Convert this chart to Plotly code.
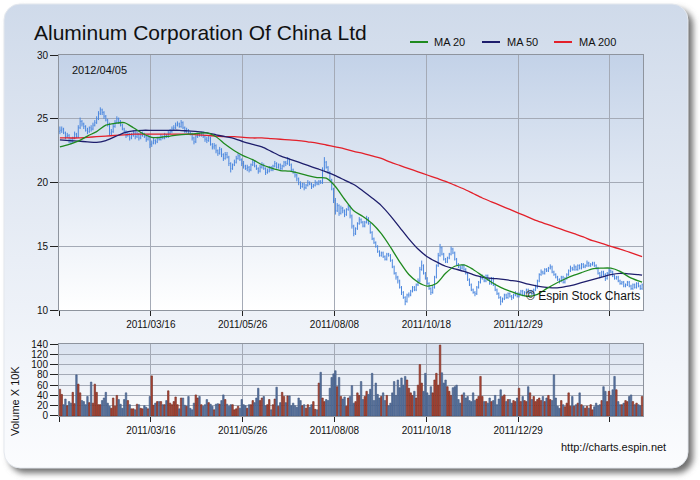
import base64
import plotly.graph_objects as go

# ---------------- data ----------------
tick_labels = ["", "2011/03/16", "2011/05/26", "2011/08/08", "2011/10/18", "2011/12/29", ""]
chart_date = "2012/04/05"

open_ = [
    24.0, 24.1, 24.2, 23.9, 23.6, 23.7, 23.3, 23.2, 23.5, 23.8,
    23.6, 24.3, 24.8, 24.6, 24.4, 24.1, 24.0, 24.3, 24.2, 24.5,
    24.7, 25.0, 25.4, 25.7, 25.5, 25.2, 24.9, 24.6, 23.9, 24.0,
    24.4, 24.7, 25.0, 24.8, 24.5, 24.2, 24.0, 23.7, 23.8, 23.5,
    23.7, 23.9, 23.6, 23.8, 23.5, 23.7, 23.8, 23.6, 23.4, 23.6,
    23.0, 23.1, 23.3, 23.2, 23.5, 23.4, 23.6, 23.5, 23.7, 23.6,
    23.9, 24.0, 24.2, 24.3, 24.5, 24.6, 24.4, 24.7, 24.3, 24.0,
    24.1, 23.9, 23.8, 23.5, 23.2, 23.6, 23.8, 23.7, 23.9, 23.6,
    23.4, 23.3, 23.5, 23.0, 22.8, 22.9, 22.5, 22.3, 22.6, 22.2,
    21.9, 22.2, 22.0, 21.5, 21.1, 21.4, 21.6, 21.9, 22.1, 21.8,
    21.5, 21.3, 21.1, 21.2, 21.0, 21.4, 21.6, 21.3, 21.1, 20.9,
    21.2, 21.4, 21.1, 20.8, 20.9, 21.2, 21.0, 21.3, 21.5, 21.2,
    21.4, 21.1, 21.3, 21.6, 21.5, 21.8, 21.4, 21.0, 20.8, 20.6,
    20.3, 20.0, 19.7, 19.9, 19.6, 19.8, 20.0, 19.9, 19.7, 19.8,
    20.0, 19.9, 20.1, 20.0, 21.0, 21.6, 21.2, 20.8, 20.2, 19.5,
    18.6, 17.8, 18.2, 17.6, 18.0, 17.8, 17.5, 17.9, 18.1, 17.4,
    16.6, 16.0, 16.4, 16.8, 17.1, 16.9, 16.6, 16.9, 17.2, 16.8,
    16.1, 15.6, 15.3, 15.0, 14.6, 14.3, 14.5, 14.2, 14.0, 14.4,
    14.3, 13.9, 13.4, 12.9, 12.6, 12.3, 11.8, 11.4, 11.0, 10.7,
    11.2, 11.2, 11.5, 11.8, 11.6, 12.0, 12.3, 13.2, 13.5, 12.9,
    12.5, 12.1, 11.7, 11.4, 11.8, 12.6, 13.5, 14.3, 14.9, 14.4,
    14.0, 13.8, 14.1, 14.4, 14.8, 14.5, 14.0, 13.6, 13.4, 13.3,
    13.5, 13.2, 12.9, 12.4, 12.0, 11.6, 11.4, 11.3, 11.8, 12.2,
    12.5, 12.6, 12.3, 12.7, 12.4, 12.1, 12.5, 12.0, 11.6, 11.3,
    11.0, 10.7, 10.9, 11.2, 11.0, 11.3, 11.1, 11.0, 11.2, 11.3,
    11.1, 11.3, 11.5, 11.2, 11.4, 11.6, 11.4, 11.5, 11.3, 11.6,
    11.8, 12.3, 12.8, 13.0, 12.9, 13.2, 13.1, 13.3, 13.4, 13.0,
    12.8, 12.6, 12.4, 12.3, 12.6, 12.2, 12.5, 12.8, 13.1, 13.3,
    13.2, 13.4, 13.2, 13.5, 13.3, 13.6, 13.4, 13.5, 13.7, 13.5,
    13.6, 13.7, 13.5, 13.3, 12.9, 12.7, 13.0, 12.8, 12.5, 12.9,
    13.1, 13.0, 12.7, 12.5, 12.6, 12.3, 12.1, 12.2, 11.9, 12.0,
    12.2, 11.9, 11.7, 12.0, 11.8, 12.1, 11.9, 11.7,
]
high = [
    24.4, 24.4, 24.3, 24.0, 23.9, 23.8, 23.5, 23.6, 24.0, 23.9,
    24.5, 25.1, 24.9, 24.7, 24.5, 24.3, 24.4, 24.5, 24.7, 24.9,
    25.2, 25.6, 25.9, 25.8, 25.6, 25.3, 25.0, 24.7, 24.2, 24.6,
    24.9, 25.2, 25.1, 24.9, 24.6, 24.3, 24.1, 24.0, 23.9, 23.9,
    24.1, 24.0, 24.0, 23.9, 23.9, 24.0, 23.9, 23.7, 23.8, 23.7,
    23.3, 23.5, 23.4, 23.6, 23.6, 23.8, 23.7, 23.9, 23.8, 24.1,
    24.2, 24.4, 24.5, 24.7, 24.8, 24.7, 24.9, 24.8, 24.4, 24.3,
    24.2, 24.0, 23.9, 23.6, 23.7, 23.9, 23.9, 24.0, 24.0, 23.7,
    23.6, 23.7, 23.6, 23.1, 23.1, 23.0, 22.6, 22.8, 22.7, 22.3,
    22.4, 22.4, 22.1, 21.6, 21.5, 21.8, 22.1, 22.3, 22.2, 21.9,
    21.7, 21.4, 21.4, 21.3, 21.5, 21.8, 21.7, 21.4, 21.2, 21.4,
    21.6, 21.5, 21.2, 21.1, 21.3, 21.3, 21.4, 21.7, 21.6, 21.5,
    21.5, 21.4, 21.7, 21.7, 22.0, 21.9, 21.5, 21.1, 20.9, 20.7,
    20.4, 20.1, 20.0, 20.0, 19.9, 20.2, 20.1, 20.0, 19.9, 20.2,
    20.1, 20.2, 20.2, 21.2, 22.0, 21.7, 21.3, 20.9, 20.3, 19.6,
    18.8, 18.4, 18.3, 18.2, 18.1, 17.9, 18.0, 18.3, 18.2, 17.5,
    16.7, 16.5, 16.9, 17.3, 17.2, 17.0, 17.0, 17.4, 17.3, 16.9,
    16.2, 15.7, 15.4, 15.1, 14.7, 14.6, 14.6, 14.3, 14.5, 14.5,
    14.4, 14.0, 13.5, 13.0, 12.7, 12.4, 11.9, 11.5, 11.1, 11.3,
    11.4, 11.6, 11.9, 11.9, 12.1, 12.5, 13.4, 13.9, 13.6, 13.0,
    12.6, 12.2, 11.8, 11.9, 12.7, 13.6, 14.5, 15.2, 15.0, 14.5,
    14.1, 14.2, 14.5, 15.0, 14.9, 14.6, 14.1, 13.7, 13.5, 13.6,
    13.6, 13.3, 13.0, 12.5, 12.1, 11.7, 11.5, 11.9, 12.3, 12.7,
    12.8, 12.7, 12.8, 12.8, 12.5, 12.6, 12.6, 12.1, 11.7, 11.4,
    11.1, 11.0, 11.3, 11.3, 11.4, 11.4, 11.2, 11.3, 11.5, 11.4,
    11.4, 11.6, 11.6, 11.5, 11.7, 11.7, 11.6, 11.6, 11.7, 12.0,
    12.4, 12.9, 13.2, 13.1, 13.3, 13.3, 13.4, 13.6, 13.5, 13.1,
    12.9, 12.7, 12.5, 12.7, 12.7, 12.6, 12.9, 13.2, 13.5, 13.4,
    13.6, 13.5, 13.6, 13.6, 13.7, 13.7, 13.6, 13.9, 13.8, 13.7,
    13.8, 13.8, 13.6, 13.4, 13.0, 13.1, 13.1, 12.9, 13.0, 13.3,
    13.2, 13.1, 12.8, 12.7, 12.7, 12.4, 12.3, 12.3, 12.1, 12.3,
    12.3, 12.0, 12.1, 12.1, 12.2, 12.2, 12.0, 12.1,
]
low = [
    23.8, 23.9, 23.8, 23.4, 23.5, 23.1, 23.0, 23.1, 23.4, 23.5,
    23.5, 24.2, 24.4, 24.2, 24.0, 23.8, 23.9, 24.0, 24.1, 24.4,
    24.6, 24.9, 25.3, 25.3, 25.0, 24.8, 24.4, 23.7, 23.7, 23.9,
    24.3, 24.6, 24.6, 24.4, 24.1, 23.9, 23.5, 23.6, 23.3, 23.4,
    23.6, 23.4, 23.5, 23.3, 23.4, 23.6, 23.5, 23.2, 23.3, 22.7,
    22.8, 23.0, 23.0, 23.1, 23.3, 23.3, 23.4, 23.4, 23.5, 23.5,
    23.8, 23.9, 24.1, 24.2, 24.4, 24.3, 24.3, 24.2, 23.9, 23.9,
    23.8, 23.7, 23.3, 23.0, 23.1, 23.5, 23.6, 23.6, 23.5, 23.2,
    23.1, 23.2, 22.9, 22.6, 22.6, 22.3, 22.1, 22.2, 22.0, 21.7,
    21.8, 21.9, 21.3, 20.8, 21.0, 21.3, 21.5, 21.8, 21.7, 21.3,
    21.1, 21.0, 20.9, 20.8, 20.9, 21.3, 21.2, 21.0, 20.7, 20.8,
    21.1, 21.0, 20.6, 20.7, 20.8, 20.9, 20.9, 21.2, 21.1, 21.1,
    21.0, 21.0, 21.2, 21.3, 21.4, 21.3, 20.9, 20.7, 20.4, 20.1,
    19.8, 19.5, 19.6, 19.4, 19.5, 19.7, 19.8, 19.5, 19.6, 19.7,
    19.8, 19.8, 19.9, 19.9, 20.9, 21.1, 20.7, 20.1, 19.4, 18.4,
    17.5, 17.7, 17.4, 17.5, 17.6, 17.3, 17.4, 17.8, 17.2, 16.4,
    15.8, 15.9, 16.3, 16.7, 16.8, 16.5, 16.5, 16.8, 16.7, 16.0,
    15.5, 15.2, 14.9, 14.5, 14.2, 14.2, 14.1, 13.9, 13.9, 14.2,
    13.8, 13.3, 12.8, 12.4, 12.1, 11.7, 11.2, 10.9, 10.4, 10.6,
    11.0, 11.1, 11.4, 11.5, 11.5, 11.9, 12.2, 13.1, 12.8, 12.4,
    12.0, 11.6, 11.2, 11.3, 11.7, 12.5, 13.4, 14.2, 14.3, 13.9,
    13.7, 13.7, 14.0, 14.3, 14.4, 13.9, 13.5, 13.3, 13.1, 13.2,
    13.1, 12.8, 12.3, 11.9, 11.5, 11.3, 11.1, 11.2, 11.7, 12.1,
    12.4, 12.2, 12.2, 12.3, 12.0, 12.0, 11.9, 11.5, 11.2, 10.9,
    10.4, 10.6, 10.8, 10.9, 10.9, 11.0, 10.8, 10.9, 11.1, 11.0,
    11.0, 11.2, 11.1, 11.1, 11.3, 11.3, 11.3, 11.2, 11.2, 11.5,
    11.7, 12.2, 12.7, 12.8, 12.8, 13.0, 13.0, 13.2, 12.9, 12.7,
    12.5, 12.3, 12.1, 12.2, 12.1, 12.1, 12.4, 12.7, 13.0, 13.1,
    13.1, 13.1, 13.1, 13.2, 13.2, 13.3, 13.3, 13.4, 13.4, 13.4,
    13.5, 13.4, 13.2, 12.8, 12.5, 12.6, 12.7, 12.3, 12.4, 12.8,
    12.9, 12.6, 12.4, 12.4, 12.2, 12.0, 12.0, 11.8, 11.8, 11.9,
    11.8, 11.6, 11.6, 11.7, 11.7, 11.8, 11.6, 11.6,
]
close = [
    24.1, 24.2, 23.9, 23.6, 23.7, 23.3, 23.2, 23.5, 23.8, 23.6,
    24.3, 24.8, 24.6, 24.4, 24.1, 24.0, 24.3, 24.2, 24.5, 24.7,
    25.0, 25.4, 25.7, 25.5, 25.2, 24.9, 24.6, 23.9, 24.0, 24.4,
    24.7, 25.0, 24.8, 24.5, 24.2, 24.0, 23.7, 23.8, 23.5, 23.7,
    23.9, 23.6, 23.8, 23.5, 23.7, 23.8, 23.6, 23.4, 23.6, 23.0,
    23.1, 23.3, 23.2, 23.5, 23.4, 23.6, 23.5, 23.7, 23.6, 23.9,
    24.0, 24.2, 24.3, 24.5, 24.6, 24.4, 24.7, 24.3, 24.0, 24.1,
    23.9, 23.8, 23.5, 23.2, 23.6, 23.8, 23.7, 23.9, 23.6, 23.4,
    23.3, 23.5, 23.0, 22.8, 22.9, 22.5, 22.3, 22.6, 22.2, 21.9,
    22.2, 22.0, 21.5, 21.1, 21.4, 21.6, 21.9, 22.1, 21.8, 21.5,
    21.3, 21.1, 21.2, 21.0, 21.4, 21.6, 21.3, 21.1, 20.9, 21.2,
    21.4, 21.1, 20.8, 20.9, 21.2, 21.0, 21.3, 21.5, 21.2, 21.4,
    21.1, 21.3, 21.6, 21.5, 21.8, 21.4, 21.0, 20.8, 20.6, 20.3,
    20.0, 19.7, 19.9, 19.6, 19.8, 20.0, 19.9, 19.7, 19.8, 20.0,
    19.9, 20.1, 20.0, 21.0, 21.6, 21.2, 20.8, 20.2, 19.5, 18.6,
    17.8, 18.2, 17.6, 18.0, 17.8, 17.5, 17.9, 18.1, 17.4, 16.6,
    16.0, 16.4, 16.8, 17.1, 16.9, 16.6, 16.9, 17.2, 16.8, 16.1,
    15.6, 15.3, 15.0, 14.6, 14.3, 14.5, 14.2, 14.0, 14.4, 14.3,
    13.9, 13.4, 12.9, 12.6, 12.3, 11.8, 11.4, 11.0, 10.7, 11.2,
    11.2, 11.5, 11.8, 11.6, 12.0, 12.3, 13.2, 13.5, 12.9, 12.5,
    12.1, 11.7, 11.4, 11.8, 12.6, 13.5, 14.3, 14.9, 14.4, 14.0,
    13.8, 14.1, 14.4, 14.8, 14.5, 14.0, 13.6, 13.4, 13.3, 13.5,
    13.2, 12.9, 12.4, 12.0, 11.6, 11.4, 11.3, 11.8, 12.2, 12.5,
    12.6, 12.3, 12.7, 12.4, 12.1, 12.5, 12.0, 11.6, 11.3, 11.0,
    10.7, 10.9, 11.2, 11.0, 11.3, 11.1, 11.0, 11.2, 11.3, 11.1,
    11.3, 11.5, 11.2, 11.4, 11.6, 11.4, 11.5, 11.3, 11.6, 11.8,
    12.3, 12.8, 13.0, 12.9, 13.2, 13.1, 13.3, 13.4, 13.0, 12.8,
    12.6, 12.4, 12.3, 12.6, 12.2, 12.5, 12.8, 13.1, 13.3, 13.2,
    13.4, 13.2, 13.5, 13.3, 13.6, 13.4, 13.5, 13.7, 13.5, 13.6,
    13.7, 13.5, 13.3, 12.9, 12.7, 13.0, 12.8, 12.5, 12.9, 13.1,
    13.0, 12.7, 12.5, 12.6, 12.3, 12.1, 12.2, 11.9, 12.0, 12.2,
    11.9, 11.7, 12.0, 11.8, 12.1, 11.9, 11.7, 12.0,
]
volume = [
    52, 42, 22, 33, 20, 28, 25, 46, 24, 80,
    62, 45, 30, 28, 22, 38, 26, 66, 25, 62,
    46, 22, 22, 30, 35, 46, 25, 19, 15, 35,
    19, 40, 32, 23, 15, 32, 45, 30, 22, 14,
    14, 12, 23, 22, 15, 14, 20, 17, 14, 38,
    78, 21, 25, 28, 28, 28, 22, 22, 30, 49,
    25, 22, 28, 37, 22, 14, 35, 35, 21, 19,
    38, 15, 12, 25, 41, 35, 38, 22, 19, 22,
    32, 26, 23, 19, 12, 23, 24, 23, 30, 41,
    32, 23, 19, 22, 22, 12, 14, 19, 15, 32,
    22, 20, 15, 22, 22, 30, 26, 35, 54, 30,
    35, 38, 20, 22, 32, 12, 22, 33, 56, 19,
    26, 46, 38, 26, 39, 39, 20, 25, 20, 17,
    35, 30, 20, 22, 15, 22, 17, 22, 28, 13,
    12, 64, 85, 35, 28, 32, 30, 54, 75, 82,
    88, 57, 75, 38, 33, 37, 19, 35, 38, 59,
    25, 28, 45, 40, 67, 32, 38, 48, 42, 52,
    83, 30, 64, 42, 35, 38, 45, 30, 40, 20,
    25, 45, 67, 40, 70, 55, 74, 60, 77, 70,
    54, 45, 40, 48, 35, 60, 100, 64, 48, 83,
    45, 40, 57, 45, 70, 83, 60, 138, 84, 64,
    70, 57, 48, 40, 55, 57, 60, 32, 25, 41,
    45, 35, 38, 30, 28, 45, 30, 33, 38, 77,
    38, 28, 28, 25, 35, 28, 30, 40, 22, 33,
    51, 38, 41, 28, 32, 32, 25, 30, 28, 35,
    54, 28, 38, 30, 28, 57, 45, 32, 38, 28,
    32, 35, 30, 38, 28, 35, 40, 32, 30, 80,
    35, 19, 15, 30, 22, 18, 25, 45, 19, 38,
    19, 22, 25, 45, 22, 19, 15, 19, 15, 22,
    12, 18, 25, 20, 22, 30, 57, 48, 28, 48,
    40, 51, 77, 51, 28, 22, 22, 25, 30, 28,
    38, 41, 28, 22, 25, 22, 20, 38,
]

# moving averages, read every 5 trading days
ma_idx = list(range(0, 316, 5)) + [317]
ma20 = [
    22.8, 23.0, 23.25, 23.65, 24.0, 24.5, 24.65, 24.7, 24.3, 23.85,
    23.55, 23.55, 23.65, 23.75, 23.8, 23.85, 23.9, 23.6, 23.0, 22.5,
    22.1, 21.8, 21.4, 21.15, 20.95, 20.9, 20.75, 20.55, 20.4, 20.35,
    19.7, 18.7, 17.8, 17.35, 16.8, 16.0, 14.95, 13.8, 12.8, 12.2,
    11.9, 12.1, 12.9, 13.45, 13.55, 13.2, 12.7, 12.2, 11.8, 11.5,
    11.25, 11.1, 11.25, 11.7, 12.1, 12.45, 12.75, 13.0, 13.25, 13.3,
    13.3, 13.05, 12.6, 12.3, 12.2,
]
ma50 = [
    23.35, 23.3, 23.25, 23.2, 23.15, 23.3, 23.6, 23.9, 24.05, 24.1,
    24.1, 24.1, 24.1, 24.1, 24.05, 24.0, 23.9, 23.75, 23.6, 23.45,
    23.2, 23.0, 22.8, 22.45, 22.1, 21.85, 21.6, 21.35, 21.1, 20.85,
    20.55, 20.2, 19.85, 19.35, 18.8, 18.2, 17.4, 16.5, 15.6, 14.8,
    14.2, 13.8, 13.45, 13.25, 13.05, 12.8, 12.6, 12.5, 12.45, 12.35,
    12.25, 12.05, 11.9, 11.8, 11.75, 11.85, 12.0, 12.2, 12.4, 12.6,
    12.8, 12.9, 12.85, 12.8, 12.75,
]
ma200 = [
    23.5, 23.5, 23.5, 23.55, 23.6, 23.65, 23.7, 23.75, 23.8, 23.8,
    23.8, 23.8, 23.8, 23.8, 23.8, 23.75, 23.7, 23.65, 23.6, 23.6,
    23.55, 23.5, 23.5, 23.45, 23.4, 23.35, 23.3, 23.2, 23.1, 22.95,
    22.8, 22.65, 22.45, 22.3, 22.1, 21.9, 21.6, 21.35, 21.1, 20.85,
    20.6, 20.35, 20.1, 19.8, 19.5, 19.15, 18.8, 18.5, 18.2, 17.9,
    17.6, 17.3, 17.0, 16.75, 16.5, 16.25, 16.0, 15.75, 15.45, 15.25,
    15.0, 14.8, 14.55, 14.3, 14.2,
]

# ---------------- styling ----------------
W, H = 700, 480
ML, MR, MT, MB = 59, 57, 55, 64
PW = W - ML - MR
PH = H - MT - MB
price_dom = [0.2928, 1.0]
vol_dom = [0.0, 0.1994]
FONT = "Liberation Sans, Arial, sans-serif"

C_BAR = "#4b87de"
C_MA20 = "#1f8a1f"
C_MA50 = "#1e1e6c"
C_MA200 = "#e3202a"
C_UP, C_UP_EDGE = "#b34a3b", "#6f2619"
C_DN, C_DN_EDGE = "#5874a0", "#3f5880"
GRID = "#a4aab6"
FRAME = "#8e949e"


def px(x):
    return (x - ML) / PW


def py(y):
    return (H - MB - y) / PH


# background card + gradient panels as one SVG image
p_top = MT + (1 - price_dom[1]) * PH
p_bot = MT + (1 - price_dom[0]) * PH
v_top = MT + (1 - vol_dom[1]) * PH
v_bot = MT + (1 - vol_dom[0]) * PH
svg = f"""<svg xmlns='http://www.w3.org/2000/svg' width='{W}' height='{H}' viewBox='0 0 {W} {H}'>
<defs>
<linearGradient id='card' x1='0' y1='0' x2='0' y2='1'><stop offset='0' stop-color='#cfdaea'/><stop offset='0.55' stop-color='#e9eef6'/><stop offset='1' stop-color='#fbfcfe'/></linearGradient>
<linearGradient id='p1' x1='0' y1='0' x2='0' y2='1'><stop offset='0' stop-color='#c3d2e8'/><stop offset='1' stop-color='#ffffff'/></linearGradient>
<linearGradient id='p2' x1='0' y1='0' x2='0' y2='1'><stop offset='0' stop-color='#d8e1ef'/><stop offset='1' stop-color='#ffffff'/></linearGradient>
<filter id='sh' x='-5%' y='-5%' width='110%' height='110%'><feGaussianBlur stdDeviation='3'/></filter>
</defs>
<rect x='9' y='9' width='684' height='464' rx='16' ry='16' fill='#6f6f6f' filter='url(#sh)'/>
<rect x='4' y='4' width='684' height='464' rx='16' ry='16' fill='url(#card)' stroke='#e4e8ee' stroke-width='1'/>
<rect x='{ML}' y='{p_top:.1f}' width='{PW}' height='{p_bot - p_top:.1f}' fill='url(#p1)'/>
<rect x='{ML}' y='{v_top:.1f}' width='{PW}' height='{v_bot - v_top:.1f}' fill='url(#p2)'/>
</svg>"""
svg_uri = "data:image/svg+xml;base64," + base64.b64encode(svg.encode()).decode()

idx = list(range(len(close)))
vol_colors = [C_UP if c >= o else C_DN for o, c in zip(open_, close)]
vol_edges = [C_UP_EDGE if c >= o else C_DN_EDGE for o, c in zip(open_, close)]

fig = go.Figure()
fig.add_trace(go.Ohlc(
    x=idx, open=open_, high=high, low=low, close=close,
    increasing=dict(line=dict(color=C_BAR, width=1)),
    decreasing=dict(line=dict(color=C_BAR, width=1)),
    tickwidth=0.3, showlegend=False, xaxis="x", yaxis="y", name="Price",
))
for name, vals, col in (("MA 200", ma200, C_MA200), ("MA 50", ma50, C_MA50), ("MA 20", ma20, C_MA20)):
    fig.add_trace(go.Scatter(
        x=ma_idx, y=vals, mode="lines", name=name,
        line=dict(color=col, width=1.3, shape="spline", smoothing=0.8),
        showlegend=False, xaxis="x", yaxis="y",
    ))
fig.add_trace(go.Bar(
    x=idx, y=volume, marker=dict(color=vol_colors, line=dict(color=vol_edges, width=0.6)),
    showlegend=False, xaxis="x2", yaxis="y2", name="Volume",
))

tickvals = [k * 50 - 0.5 for k in range(len(tick_labels))]
axis_common = dict(
    showgrid=True, gridcolor=GRID, gridwidth=1, showline=True, linecolor=FRAME,
    linewidth=1, mirror=True, zeroline=False, ticks="outside", tickcolor="#222",
    tickfont=dict(family=FONT, size=10, color="#111"),
)
fig.update_layout(
    width=W, height=H,
    margin=dict(l=ML, r=MR, t=MT, b=MB, pad=0),
    paper_bgcolor="white", plot_bgcolor="rgba(0,0,0,0)",
    font=dict(family=FONT, size=10, color="#111"),
    bargap=0.18, hovermode=False,
    xaxis=dict(domain=[0, 1], anchor="y", range=[-0.5, len(close) - 0.5],
               tickvals=tickvals, ticktext=tick_labels, ticklen=5,
               rangeslider=dict(visible=False), **axis_common),
    xaxis2=dict(domain=[0, 1], anchor="y2", range=[-0.5, len(close) - 0.5],
                tickvals=tickvals, ticktext=tick_labels, ticklen=5, matches="x", **axis_common),
    yaxis=dict(domain=price_dom, range=[10, 30], tickvals=[10, 15, 20, 25, 30],
               ticklen=8, **axis_common),
    yaxis2=dict(domain=vol_dom, range=[0, 140], dtick=20, tick0=0, ticklen=8, **axis_common),
    images=[dict(source=svg_uri, xref="paper", yref="paper", x=-ML / PW, y=1 + MT / PH,
                 sizex=W / PW, sizey=H / PH, xanchor="left", yanchor="top",
                 sizing="stretch", layer="below")],
)

ann = [
    dict(text="Aluminum Corporation Of China Ltd", x=px(32), y=py(33), size=21, anchor="left"),
    dict(text=chart_date, x=px(70), y=py(70), size=11, anchor="left"),
    dict(text="© Espin Stock Charts", x=px(524), y=py(296), size=12, anchor="left"),
    dict(text="http://charts.espin.net", x=px(559), y=py(447), size=11, anchor="left"),
    dict(text="MA 20", x=px(432), y=py(42), size=11, anchor="left"),
    dict(text="MA 50", x=px(505), y=py(42), size=11, anchor="left"),
    dict(text="MA 200", x=px(577), y=py(42), size=11, anchor="left"),
]
for a in ann:
    fig.add_annotation(text=a["text"], x=a["x"], y=a["y"], xref="paper", yref="paper",
                       xanchor=a["anchor"], yanchor="middle", showarrow=False,
                       font=dict(family=FONT, size=a["size"], color="#111"))
fig.add_annotation(text="Volume X 10K", x=px(15), y=py(401), xref="paper", yref="paper",
                   textangle=-90, showarrow=False, xanchor="center", yanchor="middle",
                   font=dict(family=FONT, size=11, color="#111"))

for x0, x1, col in ((410, 428, C_MA20), (482, 500, C_MA50), (554, 572, C_MA200)):
    fig.add_shape(type="line", xref="paper", yref="paper", x0=px(x0), x1=px(x1),
                  y0=py(42), y1=py(42), line=dict(color=col, width=2))

fig.write_html(
    "out.html",
    config={"displayModeBar": False, "staticPlot": True},
    post_script="document.body.style.margin='0';document.body.style.overflow='hidden';",
)
